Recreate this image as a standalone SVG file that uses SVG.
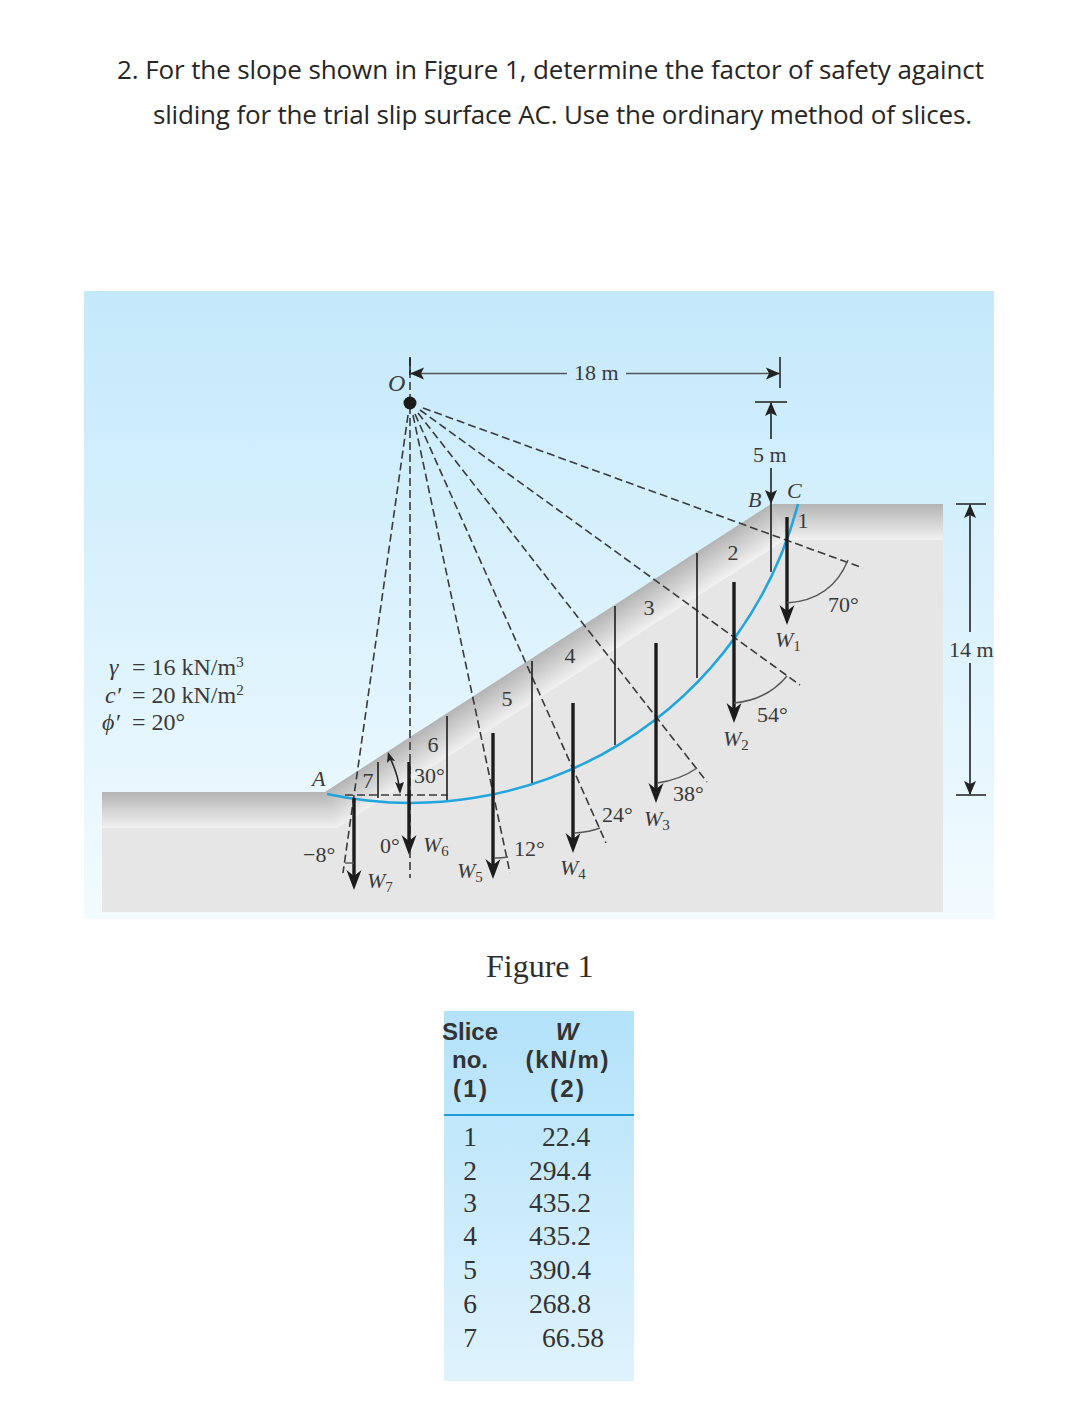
<svg xmlns="http://www.w3.org/2000/svg" width="1071" height="1408" viewBox="0 0 1071 1408">
<style>
.ttl{font-family:"Open Sans","Noto Sans",sans-serif;font-size:26px;fill:#262626}
.s{font-family:"Liberation Serif","Times New Roman",serif;font-size:22px;fill:#3a3a3a}
.p{font-size:24px}
.i{font-style:italic}
.sub{font-size:15px}
.th{font-family:"Liberation Sans",Arial,sans-serif;font-size:24px;font-weight:bold;fill:#333;text-anchor:middle}
.td{font-family:"Liberation Serif","Times New Roman",serif;font-size:27.500px;fill:#333}
.m{text-anchor:middle}
.rad{stroke:#3a3a3a;stroke-width:1.6;stroke-dasharray:8 4;fill:none}
.thin{stroke:#1c1c1c;stroke-width:1.6;fill:none}
.dim{stroke:#222;stroke-width:1.6;fill:none}
.dimg{stroke:#555;stroke-width:1.5;fill:none}
.tick{stroke:#1c1c1c;stroke-width:1.5;fill:none}
.arc{stroke:#555;stroke-width:1.4;fill:none}
.w{stroke:#1c1c1c;stroke-width:3.4;fill:none;marker-end:url(#big)}
</style>
<defs>
<linearGradient id="sky" x1="0" y1="0" x2="0" y2="1"><stop offset="0" stop-color="#c4e9fb"/><stop offset="1" stop-color="#f2fbff"/></linearGradient>
<linearGradient id="tbl" x1="0" y1="0" x2="0" y2="1"><stop offset="0" stop-color="#b3e2fa"/><stop offset="1" stop-color="#dff3fd"/></linearGradient>
<linearGradient id="bev" x1="0" y1="0" x2="0" y2="1"><stop offset="0" stop-color="#b4b4b4"/><stop offset="1" stop-color="#f1f1f1"/></linearGradient>
<linearGradient id="slp" gradientUnits="userSpaceOnUse" x1="548" y1="648" x2="568" y2="679"><stop offset="0" stop-color="#b4b4b4"/><stop offset="1" stop-color="#f1f1f1"/></linearGradient>
<marker id="big" markerUnits="userSpaceOnUse" markerWidth="24" markerHeight="18" refX="10" refY="9" orient="auto" overflow="visible"><path d="M0,1.500 L20,9 L0,16.500 L6,9 z" fill="#1c1c1c"/></marker>
<marker id="dh" markerUnits="userSpaceOnUse" markerWidth="16" markerHeight="14" refX="13" refY="7" orient="auto" overflow="visible"><path d="M0,1 L14,7 L0,13 L3,7 z" fill="#222"/></marker>
</defs>
<rect width="1071" height="1408" fill="#fff"/>

<g id="question">
<text class="ttl" x="117" y="79" textLength="867" lengthAdjust="spacing">2. For the slope shown in Figure 1, determine the factor of safety againct</text>
<text class="ttl" x="153" y="124" textLength="819" lengthAdjust="spacing">sliding for the trial slip surface AC. Use the ordinary method of slices.</text>
</g>

<g id="slope">
<rect x="84" y="291" width="910" height="628" fill="url(#sky)"/>
<path d="M102,792 L325,792 L771,504 L943,504 L943,912 L102,912 z" fill="#e6e6e6"/>
<path d="M102,792 L325,792 L337,828 L102,828 z" fill="url(#bev)"/>
<path d="M771,504 L943,504 L943,540 L785,540 z" fill="url(#bev)"/>
<path d="M325,792 L771,504 L785,540 L337,828 z" fill="url(#slp)"/>
</g>

<g id="soil-properties">
<text class="s p" x="109" y="675"><tspan class="i">γ</tspan><tspan x="132">= 16 kN/m</tspan><tspan class="sub" dy="-8">3</tspan></text>
<text class="s p" x="105" y="703"><tspan class="i">c′</tspan><tspan x="132">= 20 kN/m</tspan><tspan class="sub" dy="-8">2</tspan></text>
<text class="s p" x="102" y="730"><tspan class="i">ϕ′</tspan><tspan x="132">= 20°</tspan></text>
</g>

<g id="connectors">
<path d="M327,794 A400,400 0 0 0 798,504" fill="none" stroke="#22a5dc" stroke-width="2.600"/>
<g id="radial-lines">
<line class="rad" x1="408" y1="415" x2="343" y2="873"/>
<line class="rad" x1="410" y1="358" x2="410" y2="878"/>
<line class="rad" x1="413" y1="415" x2="510" y2="873"/>
<line class="rad" x1="415" y1="414" x2="606" y2="843"/>
<line class="rad" x1="418" y1="413" x2="707" y2="782"/>
<line class="rad" x1="420" y1="410" x2="800" y2="685"/>
<line class="rad" x1="423" y1="408" x2="863" y2="568"/>
<line class="rad" x1="345" y1="795" x2="447" y2="795"/>
</g>
<g id="slice-boundaries">
<line class="thin" x1="378" y1="762" x2="378" y2="798"/>
<line class="thin" x1="447" y1="716" x2="447" y2="800"/>
<line class="thin" x1="532" y1="661" x2="532" y2="783"/>
<line class="thin" x1="615" y1="606" x2="615" y2="745"/>
<line class="thin" x1="697" y1="553" x2="697" y2="678"/>
<line class="thin" x1="771" y1="503" x2="771" y2="572"/>
</g>
<g id="weights">
<line class="w" x1="354" y1="798" x2="354" y2="880"/>
<line class="w" x1="409" y1="762" x2="409" y2="845"/>
<line class="w" x1="493" y1="733" x2="493" y2="869"/>
<line class="w" x1="573" y1="703" x2="573" y2="843"/>
<line class="w" x1="656" y1="643" x2="656" y2="793"/>
<line class="w" x1="734" y1="582" x2="734" y2="713"/>
<line class="w" x1="787" y1="517" x2="787" y2="615"/>
</g>
<g id="angle-arcs">
<path class="arc" d="M787,603 Q832,600 848,560"/>
<path class="arc" d="M734,703 Q767,700 787,676"/>
<path class="arc" d="M657,783 Q680,780 697,768"/>
<path class="arc" d="M575,833 Q590,832 600,828"/>
<path class="arc" d="M495,858 Q502,858 508,857"/>
<path class="arc" d="M345,863 L354,863"/>
<path d="M389,756 Q398,773 400,792" fill="none" stroke="#222" stroke-width="1.500"/>
<path d="M388,752 L395,761 L390,760 L387,763 z M400,794 L395,782 L399,784 L404,782 z" fill="#222"/>
</g>
<g id="dimensions">
<line class="tick" x1="410" y1="357" x2="410" y2="375"/>
<line class="tick" x1="780" y1="357" x2="780" y2="388"/>
<line class="dimg" x1="567" y1="373.500" x2="411" y2="373.500" marker-end="url(#dh)"/>
<line class="dimg" x1="626" y1="373.500" x2="779" y2="373.500" marker-end="url(#dh)"/>
<line class="tick" x1="755" y1="402" x2="787" y2="402"/>
<line class="dim" x1="771" y1="439" x2="771" y2="403" marker-end="url(#dh)"/>
<line class="dim" x1="771" y1="468" x2="771" y2="503" marker-end="url(#dh)"/>
<line class="tick" x1="956" y1="504" x2="986" y2="504"/>
<line class="tick" x1="956" y1="795" x2="986" y2="795"/>
<line class="dim" x1="970" y1="632" x2="970" y2="505" marker-end="url(#dh)"/>
<line class="dim" x1="970" y1="663" x2="970" y2="794" marker-end="url(#dh)"/>
</g>
</g>

<g id="point-O"><circle cx="410" cy="403" r="6.500" fill="#1a1a1a"/><text class="s i p" x="388" y="391">O</text></g>

<g id="labels">
<text class="s i" x="312" y="786">A</text>
<text class="s i" x="748" y="507">B</text>
<text class="s i" x="787" y="498">C</text>
<text class="s m" x="368" y="788">7</text>
<text class="s m" x="433" y="752">6</text>
<text class="s m" x="507" y="706">5</text>
<text class="s m" x="570" y="663">4</text>
<text class="s m" x="649" y="615">3</text>
<text class="s m" x="733" y="560">2</text>
<text class="s m" x="803" y="528">1</text>
<text class="s" x="414" y="783">30°</text>
<text class="s" x="574" y="380">18 m</text>
<text class="s" x="753" y="462">5 m</text>
<text class="s" x="949" y="657">14 m</text>
<text class="s" x="828" y="612">70°</text>
<text class="s" x="757" y="722">54°</text>
<text class="s" x="673" y="801">38°</text>
<text class="s" x="602" y="822">24°</text>
<text class="s" x="514" y="856">12°</text>
<text class="s" x="380" y="853">0°</text>
<text class="s" x="303" y="862">−8°</text>
<text class="s i" x="775" y="647">W<tspan class="sub" font-style="normal" dy="4">1</tspan></text>
<text class="s i" x="723" y="746">W<tspan class="sub" font-style="normal" dy="4">2</tspan></text>
<text class="s i" x="644" y="826">W<tspan class="sub" font-style="normal" dy="4">3</tspan></text>
<text class="s i" x="560" y="875">W<tspan class="sub" font-style="normal" dy="4">4</tspan></text>
<text class="s i" x="457" y="878">W<tspan class="sub" font-style="normal" dy="4">5</tspan></text>
<text class="s i" x="423" y="852">W<tspan class="sub" font-style="normal" dy="4">6</tspan></text>
<text class="s i" x="367" y="888">W<tspan class="sub" font-style="normal" dy="4">7</tspan></text>
</g>

<g id="caption"><text x="486" y="977" style="font-family:'Liberation Serif',serif;font-size:32px;fill:#2e2e2e">Figure 1</text></g>

<g id="table">
<rect x="444" y="1011" width="190" height="370" fill="url(#tbl)"/>
<line x1="444" y1="1115" x2="634" y2="1115" stroke="#1c9cd8" stroke-width="1.800"/>
<text class="th" x="470" y="1040">Slice</text>
<text class="th" x="470" y="1068">no.</text>
<text class="th" x="470" y="1097" textLength="34">(1)</text>
<text class="th i" x="567" y="1040">W</text>
<text class="th" x="567" y="1068" textLength="83">(kN/m)</text>
<text class="th" x="567" y="1097" textLength="34">(2)</text>
<text class="td m" x="470" y="1146">1</text><text class="td" x="542" y="1146">22.4</text>
<text class="td m" x="470" y="1180">2</text><text class="td" x="529" y="1180">294.4</text>
<text class="td m" x="470" y="1212">3</text><text class="td" x="529" y="1212">435.2</text>
<text class="td m" x="470" y="1245">4</text><text class="td" x="529" y="1245">435.2</text>
<text class="td m" x="470" y="1279">5</text><text class="td" x="529" y="1279">390.4</text>
<text class="td m" x="470" y="1313">6</text><text class="td" x="529" y="1313">268.8</text>
<text class="td m" x="470" y="1347">7</text><text class="td" x="542" y="1347">66.58</text>
</g>
</svg>
